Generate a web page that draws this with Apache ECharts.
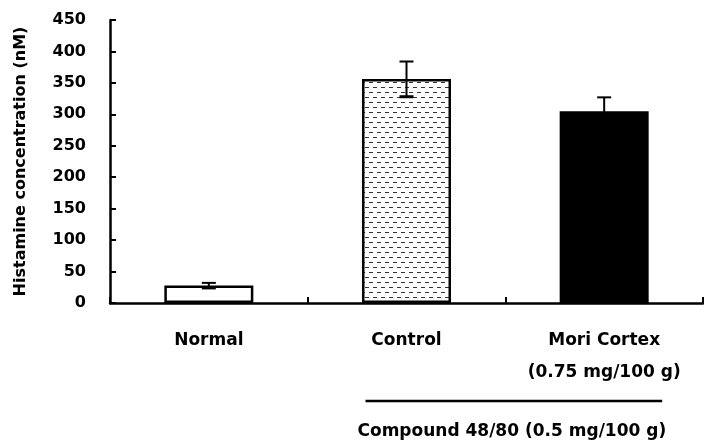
<!DOCTYPE html>
<html>
<head>
<meta charset="utf-8">
<script src="https://cdn.jsdelivr.net/npm/echarts@6/dist/echarts.min.js"></script>
<style>
  html, body { margin: 0; padding: 0; background: #fff; }
  #chart { width: 704px; height: 447px; }
</style>
</head>
<body>
<div id="chart"></div>
<script>
'use strict';

// data
var categories = ['Normal', 'Control', 'Mori Cortex\n(0.75 mg/100 g)'];
var meanValues = [28, 356, 305];
var semValues = [4, 28, 22];
var yTicks = [0, 50, 100, 150, 200, 250, 300, 350, 400, 450];
var groupLabel = 'Compound 48/80 (0.5 mg/100 g)';

var FONT = 'DejaVu Sans';

// dashed texture used for the Control bar
function makeDashPattern() {
    var c = document.createElement('canvas');
    c.width = 8; c.height = 10;
    var g = c.getContext('2d');
    g.fillStyle = '#fff';
    g.fillRect(0, 0, 8, 10);
    g.fillStyle = '#333';
    g.fillRect(1, 2, 4, 1);
    g.fillRect(5, 7, 3, 1);
    g.fillRect(0, 7, 1, 1);
    return c;
}

var barFills = ['#ffffff', { image: makeDashPattern(), repeat: 'repeat' }, '#000000'];

var chart = echarts.init(document.getElementById('chart'));

var option = {
    animation: false,
    backgroundColor: '#fff',
    grid: { left: 110, right: 1, top: 20, bottom: 144 },
    xAxis: {
        type: 'category',
        data: categories,
        axisLine: { lineStyle: { color: '#000', width: 2.5 } },
        axisTick: { show: true, inside: true, length: 6, interval: 0, lineStyle: { color: '#000', width: 2 } },
        axisLabel: {
            interval: 0,
            color: '#000', fontFamily: FONT, fontWeight: 'bold', fontSize: 17,
            margin: 22, lineHeight: 32
        }
    },
    yAxis: {
        type: 'value',
        min: 0, max: yTicks[yTicks.length - 1], interval: yTicks[1] - yTicks[0],
        name: 'Histamine concentration (nM)',
        nameLocation: 'middle',
        nameGap: 81,
        nameTextStyle: { color: '#000', fontFamily: FONT, fontWeight: 'bold', fontSize: 16 },
        splitLine: { show: false },
        axisLine: { show: true, lineStyle: { color: '#000', width: 2.5 } },
        axisTick: { show: true, inside: true, length: 6, lineStyle: { color: '#000', width: 2 } },
        axisLabel: {
            color: '#000', fontFamily: FONT, fontWeight: 'bold', fontSize: 16, margin: 24
        }
    },
    series: [
        {
            type: 'bar',
            barWidth: 89,
            data: meanValues.map(function (v, i) {
                return {
                    value: v,
                    itemStyle: { color: barFills[i], borderColor: '#000', borderWidth: 2.5 }
                };
            })
        },
        {
            type: 'custom',
            z: 5,
            data: meanValues.map(function (v, i) { return [i, v - semValues[i], v + semValues[i]]; }),
            renderItem: function (params, api) {
                var lo = api.coord([api.value(0), api.value(1)]);
                var hi = api.coord([api.value(0), api.value(2)]);
                var half = 7;
                var style = { stroke: '#000', lineWidth: 2 };
                return {
                    type: 'group',
                    children: [
                        { type: 'line', shape: { x1: hi[0], y1: hi[1], x2: lo[0], y2: lo[1] }, style: style },
                        { type: 'line', shape: { x1: hi[0] - half, y1: hi[1], x2: hi[0] + half, y2: hi[1] }, style: style },
                        { type: 'line', shape: { x1: lo[0] - half, y1: lo[1], x2: lo[0] + half, y2: lo[1] }, style: { stroke: '#000', lineWidth: 3 } }
                    ]
                };
            }
        }
    ]
};

chart.setOption(option);

// bracket line and group caption under Control + Mori Cortex
var pControl = chart.convertToPixel({ xAxisIndex: 0 }, categories[1]);
var pMori = chart.convertToPixel({ xAxisIndex: 0 }, categories[2]);
var x1 = pControl - 41, x2 = pMori + 58;
chart.setOption({
    graphic: [
        { type: 'line', shape: { x1: x1, y1: 401, x2: x2, y2: 401 }, style: { stroke: '#000', lineWidth: 2.5 } },
        {
            type: 'text', x: (x1 + x2) / 2 - 2, y: 432,
            style: {
                text: groupLabel, fill: '#000', font: 'bold 17px "' + FONT + '"',
                align: 'center', verticalAlign: 'middle'
            }
        }
    ]
});
</script>
</body>
</html>
